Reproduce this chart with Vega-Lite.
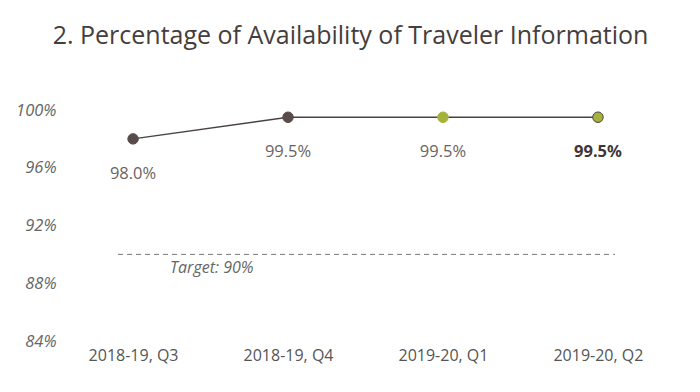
{
  "$schema": "https://vega.github.io/schema/vega-lite/v6.json",
  "autosize": "none",
  "width": 609,
  "height": 231,
  "padding": {"left": 61, "top": 110, "right": 30, "bottom": 51},
  "background": "white",
  "title": {
    "text": "2. Percentage of Availability of Traveler Information",
    "font": "Open Sans",
    "fontSize": 25,
    "fontWeight": "normal",
    "color": "#463d3d",
    "anchor": "middle",
    "dx": -15,
    "offset": 28,
    "baseline": "bottom"
  },
  "config": {"view": {"stroke": null}},
  "data": {
    "values": [
      {"quarter": "2018-19, Q3", "value": 98.0, "status": "prior", "label": "98.0%"},
      {"quarter": "2018-19, Q4", "value": 99.5, "status": "prior", "label": "99.5%"},
      {"quarter": "2019-20, Q1", "value": 99.5, "status": "current", "label": "99.5%"},
      {"quarter": "2019-20, Q2", "value": 99.5, "status": "latest", "label": "99.5%"}
    ]
  },
  "encoding": {
    "x": {
      "field": "quarter",
      "type": "ordinal",
      "scale": {"type": "point", "padding": 0.465},
      "axis": {
        "title": null,
        "domain": false,
        "ticks": false,
        "labelAngle": 0,
        "labelFont": "Open Sans",
        "labelFontSize": 16,
        "labelColor": "#555555",
        "labelPadding": 6
      }
    },
    "y": {
      "field": "value",
      "type": "quantitative",
      "scale": {"domain": [84, 100], "nice": false, "zero": false},
      "axis": {
        "title": null,
        "domain": false,
        "ticks": false,
        "grid": false,
        "values": [84, 88, 92, 96, 100],
        "labelExpr": "datum.value + '%'",
        "labelFont": "Open Sans",
        "labelFontStyle": "italic",
        "labelFontSize": 16.5,
        "labelColor": "#666666",
        "labelPadding": 5
      }
    }
  },
  "layer": [
    {
      "data": {"values": [{"start": "2018-19, Q3", "end": "2019-20, Q2", "target": 90}]},
      "mark": {"type": "rule", "strokeDash": [5, 4], "color": "#777777", "strokeWidth": 1, "xOffset": -15, "x2Offset": 17},
      "encoding": {
        "x": {"field": "start", "type": "ordinal"},
        "x2": {"field": "end"},
        "y": {"field": "target", "type": "quantitative"}
      }
    },
    {
      "data": {"values": [{"start": "2018-19, Q3", "target": 90, "tlabel": "Target: 90%"}]},
      "mark": {"type": "text", "font": "Open Sans", "fontStyle": "italic", "fontSize": 16, "color": "#666666", "align": "left", "dx": 37, "dy": 14},
      "encoding": {
        "x": {"field": "start", "type": "ordinal"},
        "y": {"field": "target", "type": "quantitative"},
        "text": {"field": "tlabel"}
      }
    },
    {
      "mark": {"type": "line", "color": "#4a4242", "strokeWidth": 1.5}
    },
    {
      "mark": {"type": "point", "filled": true, "opacity": 1, "strokeWidth": 1},
      "encoding": {
        "color": {
          "field": "status",
          "type": "nominal",
          "scale": {"domain": ["prior", "current", "latest"], "range": ["#574b4b", "#a5b13b", "#a5b13b"]},
          "legend": null
        },
        "size": {
          "field": "status",
          "type": "nominal",
          "scale": {"domain": ["prior", "current", "latest"], "range": [110, 110, 210]},
          "legend": null
        },
        "stroke": {
          "field": "status",
          "type": "nominal",
          "scale": {"domain": ["prior", "current", "latest"], "range": ["#574b4b", "#a5b13b", "#4a4242"]},
          "legend": null
        }
      }
    },
    {
      "transform": [{"filter": "datum.status !== 'latest'"}],
      "mark": {"type": "text", "font": "Open Sans", "fontSize": 16.5, "dy": 35, "color": "#6a6262"},
      "encoding": {"text": {"field": "label"}}
    },
    {
      "transform": [{"filter": "datum.status === 'latest'"}],
      "mark": {"type": "text", "font": "Noto Sans", "fontWeight": "bold", "fontSize": 16.5, "dy": 35, "color": "#3e3636"},
      "encoding": {"text": {"field": "label"}}
    }
  ]
}
